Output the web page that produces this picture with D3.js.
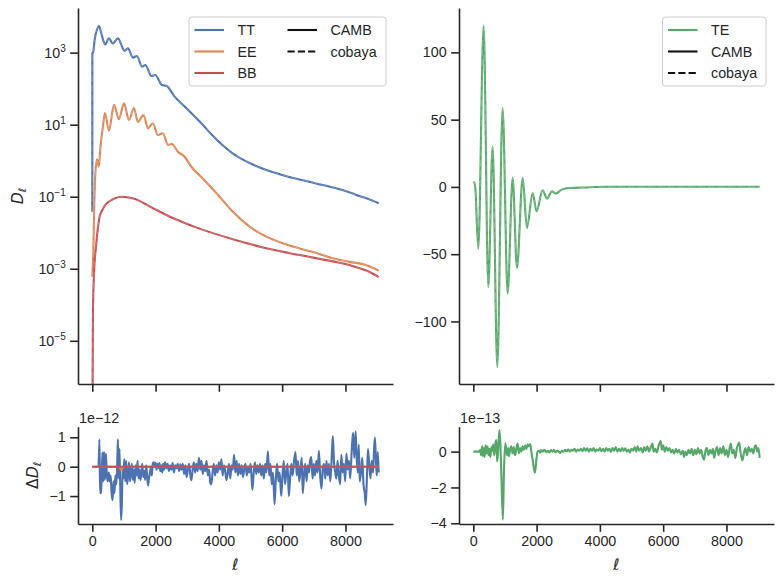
<!DOCTYPE html>
<html>
<head>
<meta charset="utf-8">
<script src="https://cdn.jsdelivr.net/npm/d3@7"></script>
<style>
body { margin: 0; background: #fff; }
text { font-family: "Liberation Sans", Arial, sans-serif; fill: #262626; }
</style>
</head>
<body>
<svg id="chart" width="784" height="583"></svg>
<script>
// Spectra (D_ell, muK^2)
const ttEll = [0, 2, 30, 73, 145, 210, 284, 357, 410, 525, 650, 810, 1020, 1125, 1285, 1410, 1570, 1675, 1865, 1990, 2200, 2340, 2600, 2917, 3444, 3800, 4128, 4443, 4760, 5100, 5500, 6000, 6550, 7100, 7600, 8000, 8340, 8660, 9050];
const ttVal = [0.038, 960, 1050, 2240, 4270, 5500, 3470, 2040, 1700, 2500, 1800, 2500, 1120, 1330, 730, 810, 410, 455, 225, 240, 126, 120, 60, 32, 11, 5.0, 2.63, 1.58, 1.07, 0.76, 0.55, 0.40, 0.30, 0.23, 0.18, 0.145, 0.112, 0.091, 0.066];

const eeEll = [0, 30, 60, 100, 150, 205, 260, 335, 400, 525, 685, 840, 1000, 1160, 1315, 1440, 1620, 1760, 1915, 2075, 2230, 2390, 2515, 2705, 2917, 3128, 3444, 3810, 4023, 4443, 4970, 5500, 6235, 7080, 7600, 8130, 8660, 9050];
const eeVal = [0.0006, 0.0025, 0.05, 0.5, 1.1, 0.68, 2.5, 8.7, 21, 6.8, 35.5, 14.1, 39, 13.5, 29, 12.0, 18.6, 7.9, 11.0, 5.1, 5.8, 2.75, 2.9, 1.78, 1.29, 0.68, 0.355, 0.162, 0.10, 0.038, 0.0148, 0.0078, 0.0044, 0.00275, 0.00195, 0.00155, 0.00126, 0.00089];

const bbEll = [0, 20, 50, 126, 230, 330, 440, 650, 915, 1300, 1900, 2340, 2900, 3390, 4443, 5500, 6550, 7600, 8130, 8660, 9050];
const bbVal = [1e-8, 6e-5, 6e-4, 5e-3, 0.0275, 0.045, 0.063, 0.085, 0.1, 0.089, 0.049, 0.031, 0.019, 0.013, 0.0066, 0.0037, 0.0024, 0.0016, 0.00126, 0.00089, 0.00059];

const teEll = [2, 30, 63, 158, 326, 474, 610, 758, 926, 1085, 1243, 1380, 1560, 1695, 1875, 2000, 2190, 2330, 2485, 2610, 2790, 3030, 3500, 4240, 5000, 6000, 7000, 8000, 9050];
const teVal = [3.0, 3.4, -0.7, -46, 120, -74.6, 30.2, -134, 58.7, -79.3, 6.7, -60.2, 6.7, -30.5, -4.5, -18.1, -2.5, -8.7, -3.3, -5, -2, -0.8, -0.4, 0.1, 0.1, 0.1, 0.1, 0.1, 0.1];

// Residuals cobaya - CAMB (TT/EE/BB in units of 1e-12, TE in 1e-13)
const resTTEll = [200, 225, 245, 270, 295, 320, 345, 370, 400, 430, 460, 490, 520, 550, 580, 610, 640, 670, 700, 730, 760, 790, 810, 835, 860, 885, 910, 935, 960, 985,
  1010, 1040, 1070, 1100, 1130, 1160, 1190, 1220, 1250, 1280, 1310, 1340, 1370, 1400, 1430, 1460, 1490, 1520, 1550, 1580, 1610, 1640, 1670, 1700, 1730, 1760, 1790, 1820, 1850, 1880,
  1910, 1940, 1970, 2000, 2030, 2060, 2090, 2120, 2150, 2180, 2210, 2240, 2270, 2300, 2340, 2380, 2420, 2460, 2500, 2540, 2580, 2620, 2660, 2700, 2740, 2780, 2820, 2860, 2900, 2940,
  2980, 3020, 3060, 3100, 3130, 3170, 3210, 3250, 3290, 3330, 3370, 3410, 3450, 3490, 3530, 3570, 3610, 3650, 3690, 3730, 3760, 3800, 3840, 3880, 3920, 3960, 4000, 4040, 4080, 4120,
  4160, 4200, 4240, 4280, 4320, 4360, 4400, 4440, 4480, 4520, 4560, 4600, 4640, 4680, 4720, 4760, 4800, 4840, 4880, 4920, 4960, 5000, 5040, 5060, 5100, 5140, 5180, 5220, 5260, 5300,
  5340, 5380, 5420, 5460, 5500, 5550, 5590, 5630, 5670, 5710, 5760, 5800, 5840, 5880, 5920, 5970, 6010, 6050, 6090, 6130, 6170, 6210, 6250, 6290, 6330, 6370, 6420, 6460, 6500, 6540,
  6580, 6620, 6650, 6690, 6730, 6770, 6810, 6850, 6880, 6920, 6960, 7000, 7040, 7080, 7120, 7160, 7200, 7240, 7280, 7320, 7360, 7400, 7440, 7480, 7520, 7560, 7600, 7640, 7680, 7710,
  7750, 7790, 7830, 7870, 7910, 7950, 7990, 8030, 8070, 8110, 8150, 8200, 8240, 8280, 8320, 8350, 8390, 8420, 8450, 8490, 8530, 8570, 8610, 8640, 8680, 8710, 8750, 8790, 8830, 8870,
  8900, 8930, 8960, 8990, 9020, 9050];
const resTTVal = [0, 0.93, -0.9, -0.88, -0.45, 0.48, -0.5, 0.5, -0.45, 0.45, -0.3, -0.5, -0.2, -0.5, -0.3, -0.9, -1.14, -0.5, -0.9, -0.3, -0.6, 0.2, 0.93, -0.4, 0.6, -0.8, -1.82, -1.2, 0.0, -0.4,
  0.26, -0.5, 0.2, -0.6, -0.3, 0.15, -0.5, -0.2, 0.1, -0.45, -0.1, -0.55, 0.05, -0.3, 0.2, -0.4, -0.1, -0.45, -0.2, 0.1, -0.35, -0.15, -0.45, 0.05, -0.3, -0.64, -0.4, -0.2, -0.05, -0.3,
  0.1, 0.15, 0.05, 0.12, -0.1, 0.1, -0.05, 0.12, -0.15, 0.05, -0.2, 0.1, -0.1, 0.15, -0.05, 0.1, -0.15, 0.05, -0.1, 0.12, -0.2, 0.05, -0.05, 0.1, -0.15, 0.08, -0.1, 0.1, -0.25, 0.05,
  -0.35, -0.1, 0.1, -0.3, -0.46, -0.1, 0.15, -0.2, 0.1, -0.15, 0.3, -0.1, 0.2, -0.25, 0.05, -0.15, 0.2, -0.3, -0.1, -0.55, -0.6, -0.2, 0.1, -0.3, 0.05, -0.2, 0.15, -0.1, 0.25, -0.3,
  0.05, -0.15, -0.46, -0.2, 0.1, -0.4, 0.05, -0.1, 0.4, -0.2, 0.2, -0.3, 0.1, -0.25, 0.05, -0.35, -0.1, 0.1, -0.3, 0.0, -0.2, 0.1, -0.5, -0.78, -0.2, 0.15, -0.25, 0.05, -0.2, 0.1,
  -0.3, 0.05, -0.4, 0.1, -0.2, 0.52, -0.3, 0.1, -0.6, -0.2, -1.28, -0.4, 0.1, -0.5, -0.2, -1.0, -0.3, 0.2, -0.6, -0.2, 0.1, -1.0, -0.4, 0.1, -0.3, 0.15, 0.5, -0.3, 0.2, -0.5,
  -0.1, 0.3, -0.9, -0.3, 0.1, -0.5, 0.05, -0.2, 0.2, 0.33, -0.4, 0.1, -0.3, 0.2, -0.2, 0.54, -0.3, -0.75, -0.1, 0.1, -0.4, 0.2, -0.3, 0.1, -0.5, 0.2, 1.04, 0.1, -0.2, -0.4,
  0.2, -0.3, -0.6, 0.4, -0.2, 0.1, -0.5, 0.45, -0.1, 0.2, -0.4, 0.6, 1.15, 0.3, 1.2, 0.4, -0.2, 0.75, -0.5, -0.2, 0.3, -0.6, -0.9, -1.31, -0.3, 0.6, 0.1, -0.4, 0.2, -0.2,
  0.5, 0.99, 0.3, -0.3, 0.5, -0.2];

const resEEEll = [0, 800, 880, 920, 960, 1040, 9050];
const resEEVal = [0, 0, -0.05, -0.12, -0.05, 0, 0];
const resBBEll = [0, 9050];
const resBBVal = [0, 0];

const resTEEll = [0, 180, 220, 250, 280, 300, 330, 360, 390, 420, 450, 480, 510, 540, 570, 600, 630, 660, 700, 730, 750, 770, 800, 830, 860, 890, 935, 970, 1010, 1040,
  1070, 1100, 1130, 1160, 1200, 1240, 1280, 1320, 1360, 1400, 1440, 1480, 1520, 1560, 1600, 1640, 1680, 1720, 1760, 1800, 1840, 1880, 1920, 1950, 1990, 2030, 2070, 2110, 2150, 2200,
  2250, 2300, 2350, 2400, 2450, 2500, 2550, 2600, 2650, 2700, 2750, 2800, 2850, 2900, 2950, 3000, 3050, 3100, 3150, 3200, 3250, 3300, 3350, 3400, 3450, 3500, 3550, 3600, 3650, 3700,
  3750, 3800, 3850, 3900, 3950, 4000, 4050, 4100, 4150, 4200, 4250, 4300, 4350, 4400, 4450, 4500, 4550, 4600, 4650, 4700, 4750, 4800, 4850, 4900, 4950, 5000, 5050, 5100, 5150, 5190,
  5240, 5300, 5350, 5400, 5450, 5500, 5550, 5600, 5660, 5700, 5750, 5800, 5850, 5920, 5960, 6000, 6050, 6100, 6150, 6200, 6250, 6300, 6350, 6400, 6450, 6500, 6560, 6620, 6660, 6700,
  6750, 6800, 6850, 6900, 6950, 7000, 7050, 7100, 7150, 7200, 7250, 7290, 7330, 7380, 7430, 7480, 7530, 7570, 7610, 7650, 7700, 7750, 7800, 7850, 7900, 7950, 8000, 8050, 8100, 8140,
  8180, 8230, 8280, 8330, 8370, 8400, 8440, 8500, 8550, 8600, 8650, 8700, 8750, 8800, 8850, 8890, 8930, 8970, 9010, 9050];
const resTEVal = [0, 0, 0.1, -0.2, 0.3, -0.25, 0.2, -0.3, 0.35, -0.1, 0.3, -0.2, 0.15, -0.3, 0.25, 0.05, 0.4, -0.2, 0.5, 0.65, -0.55, -0.3, 0.6, 1.2, 0.2, -1.5, -3.8, -1.0, 0.47, 0.1,
  -0.2, 0.2, -0.25, 0.1, 0.3, -0.1, 0.25, -0.2, 0.15, 0.45, -0.1, 0.2, 0.0, 0.3, 0.1, 0.35, 0.15, 0.4, 0.3, 0.42, -0.1, -0.5, -1.0, -1.17, -0.5, 0.0, 0.05, -0.05, 0.08, 0.0,
  0.1, -0.03, 0.05, -0.05, 0.08, 0.0, 0.1, -0.05, 0.05, 0.0, -0.08, 0.05, 0.0, 0.1, 0.02, 0.12, 0.0, 0.1, 0.05, 0.15, 0.0, 0.12, 0.05, 0.15, 0.02, 0.2, 0.05, 0.18, 0.0, 0.15,
  0.05, 0.2, 0.0, 0.12, 0.05, 0.2, 0.02, 0.15, 0.0, 0.2, 0.05, 0.15, -0.02, 0.2, 0.05, 0.25, 0.0, 0.15, 0.02, 0.2, 0.05, 0.18, 0.0, 0.1, -0.05, 0.15, 0.05, 0.25, 0.0, 0.3,
  0.05, 0.2, -0.05, 0.25, 0.05, 0.3, 0.0, 0.2, 0.45, 0.0, 0.15, -0.05, 0.3, 0.59, 0.1, 0.35, 0.0, 0.25, 0.05, 0.2, -0.05, 0.1, -0.1, 0.15, -0.05, 0.1, -0.15, 0.05, -0.3, 0.0,
  -0.2, 0.1, -0.1, 0.15, -0.2, 0.1, -0.15, 0.2, -0.1, 0.1, -0.3, -0.45, 0.0, 0.2, -0.2, 0.1, -0.1, 0.15, -0.35, 0.0, 0.25, -0.2, 0.2, -0.1, 0.3, -0.2, 0.1, -0.3, 0.2, 0.45,
  -0.1, 0.1, -0.35, 0.2, 0.4, 0.5, 0.0, -0.5, -0.1, 0.2, -0.2, 0.25, 0.0, 0.15, -0.1, 0.25, 0.35, 0.0, 0.2, -0.35];

// Ticks and legend entries
const xTicks = [0, 2000, 4000, 6000, 8000];
const logTicks = [1e-5, 1e-3, 1e-1, 1e1, 1e3];
const teTicks = [-100, -50, 0, 50, 100];
const resTTTicks = [-1, 0, 1];
const resTETicks = [-4, -2, 0];
const specLabels = ["TT", "EE", "BB"];
const codeLabels = ["CAMB", "cobaya"];

const colors = { TT: "#4C72B0", EE: "#DD8452", BB: "#C44E52", TE: "#55A868" };
const ink = "#262626";

const svg = d3.select("#chart");

// panel boxes
const leftX = [78, 393], rightX = [459, 774];
const topY = [8, 384], botY = [426.7, 524];

const xL = d3.scaleLinear().domain([-452, 9502]).range(leftX);
const xR = d3.scaleLinear().domain([-452, 9502]).range(rightX);
const yLog = d3.scaleLog().domain([Math.pow(10, -6.2), Math.pow(10, 4.24)]).range([topY[1], topY[0]]);
const yTE = d3.scaleLinear().domain([-146.5, 133]).range([topY[1], topY[0]]);
const yResTT = d3.scaleLinear().domain([-1.95, 1.36]).range([botY[1], botY[0]]);
const yResTE = d3.scaleLinear().domain([-4.04, 1.39]).range([botY[1], botY[0]]);

// clip paths per panel
const defs = svg.append("defs");
function addClip(id, xr, yr) {
    defs.append("clipPath").attr("id", id)
        .append("rect")
        .attr("x", xr[0]).attr("y", yr[0])
        .attr("width", xr[1] - xr[0]).attr("height", yr[1] - yr[0]);
}
addClip("c-tl", leftX, topY);
addClip("c-tr", rightX, topY);
addClip("c-bl", leftX, botY);
addClip("c-br", rightX, botY);

function drawSeries(clip, x, y, ells, vals, color, dashed) {
    const pts = ells.map((l, i) => [l, vals[i]]);
    const line = d3.line()
        .x(d => x(d[0]))
        .y(d => y(d[1]))
        .curve(d3.curveMonotoneX);
    const g = svg.append("g").attr("clip-path", `url(#${clip})`);
    g.append("path")
        .datum(pts)
        .attr("d", line)
        .attr("fill", "none")
        .attr("stroke", color)
        .attr("stroke-width", 2.1)
        .attr("stroke-linejoin", "round");
    if (dashed) {
        // cobaya curve sits on top of CAMB
        g.append("path")
            .datum(pts)
            .attr("d", line)
            .attr("fill", "none")
            .attr("stroke", "#fff")
            .attr("stroke-opacity", 0.22)
            .attr("stroke-width", 1)
            .attr("stroke-dasharray", "7,3");
    }
}

// top left: TT, EE, BB on log axis
drawSeries("c-tl", xL, yLog, ttEll, ttVal, colors.TT, true);
drawSeries("c-tl", xL, yLog, eeEll, eeVal, colors.EE, true);
drawSeries("c-tl", xL, yLog, bbEll, bbVal, colors.BB, true);

// top right: TE
drawSeries("c-tr", xR, yTE, teEll, teVal, colors.TE, true);

// residuals
drawSeries("c-bl", xL, yResTT, resTTEll, resTTVal, colors.TT, false);
drawSeries("c-bl", xL, yResTT, resEEEll, resEEVal, colors.EE, false);
drawSeries("c-bl", xL, yResTT, resBBEll, resBBVal, colors.BB, false);
drawSeries("c-br", xR, yResTE, resTEEll, resTEVal, colors.TE, false);

// axes
function styleAxis(g) {
    g.attr("font-family", null).attr("font-size", 14.3).attr("color", ink);
    g.select(".domain").attr("stroke-width", 1.6);
    g.selectAll(".tick line").attr("stroke-width", 1.6);
}

function xAxis(x, yPos, labels) {
    const ax = d3.axisBottom(x).tickValues(xTicks).tickSize(7.8).tickSizeOuter(0).tickPadding(4.5);
    ax.tickFormat(labels ? d3.format("d") : "");
    svg.append("g").attr("transform", `translate(0,${yPos})`).call(ax).call(styleAxis);
}

function yAxis(y, xPos, ticks, fmt) {
    const ax = d3.axisLeft(y).tickValues(ticks).tickSize(7.8).tickSizeOuter(0).tickPadding(4.5);
    if (fmt) ax.tickFormat(fmt);
    return svg.append("g").attr("transform", `translate(${xPos},0)`).call(ax).call(styleAxis);
}

xAxis(xL, topY[1], false);
xAxis(xR, topY[1], false);
xAxis(xL, botY[1], true);
xAxis(xR, botY[1], true);

// log axis with 10^n labels
const logAxis = yAxis(yLog, leftX[0], logTicks, () => "");
logAxis.selectAll(".tick text").each(function(d) {
    const t = d3.select(this);
    const e = Math.round(Math.log10(d));
    t.append("tspan").text("10");
    t.append("tspan").attr("dy", "-0.55em").attr("font-size", "0.7em")
        .text(String(e).replace("-", "\u2212"));
});

yAxis(yTE, rightX[0], teTicks, d3.format("d"));
yAxis(yResTT, leftX[0], resTTTicks, d3.format("d"));
yAxis(yResTE, rightX[0], resTETicks, d3.format("d"));

// offset texts
svg.append("text").attr("x", leftX[0] + 1).attr("y", 423).attr("font-size", 14.3).text("1e\u221212");
svg.append("text").attr("x", rightX[0] + 1).attr("y", 423).attr("font-size", 14.3).text("1e\u221213");

// axis labels
const mathFont = "DejaVu Sans";
[(leftX[0] + leftX[1]) / 2, (rightX[0] + rightX[1]) / 2].forEach(cx => {
    svg.append("text")
        .attr("x", cx).attr("y", 570)
        .attr("text-anchor", "middle")
        .style("font-family", mathFont)
        .style("font-style", "italic")
        .attr("font-size", 15.6)
        .text("\u2113");
});

const dl = svg.append("text")
    .attr("transform", `translate(23,${(topY[0] + topY[1]) / 2}) rotate(-90)`)
    .attr("text-anchor", "middle")
    .style("font-family", mathFont)
    .attr("font-size", 15.6);
dl.append("tspan").style("font-style", "italic").text("D");
dl.append("tspan").attr("dy", 3).attr("font-size", 11).style("font-style", "italic").text("\u2113");

const ddl = svg.append("text")
    .attr("transform", `translate(38,${(botY[0] + botY[1]) / 2}) rotate(-90)`)
    .attr("text-anchor", "middle")
    .style("font-family", mathFont)
    .attr("font-size", 15.6);
ddl.append("tspan").text("\u0394");
ddl.append("tspan").style("font-style", "italic").text("D");
ddl.append("tspan").attr("dy", 3).attr("font-size", 11).style("font-style", "italic").text("\u2113");

// legends
function legendBox(x0, x1) {
    svg.append("rect")
        .attr("x", x0).attr("y", 17)
        .attr("width", x1 - x0).attr("height", 69)
        .attr("rx", 3)
        .attr("fill", "#fff").attr("fill-opacity", 0.8)
        .attr("stroke", "#cccccc").attr("stroke-width", 1);
}

function legendItem(x, y, label, color, dashed) {
    svg.append("line")
        .attr("x1", x).attr("x2", x + 29.5)
        .attr("y1", y).attr("y2", y)
        .attr("stroke", color).attr("stroke-width", 2.1)
        .attr("stroke-dasharray", dashed ? "7.2,3.1" : null);
    svg.append("text")
        .attr("x", x + 43).attr("y", y)
        .attr("dy", "0.35em")
        .attr("font-size", 14.3)
        .text(label);
}

const rowY = [30, 51.5, 73];

legendBox(189, 386);
specLabels.forEach((s, i) => legendItem(194.5, rowY[i], s, colors[s], false));
codeLabels.forEach((s, i) => legendItem(287.5, rowY[i], s, "#111", i === 1));

legendBox(662.5, 766);
legendItem(668, rowY[0], "TE", colors.TE, false);
codeLabels.forEach((s, i) => legendItem(668, rowY[i + 1], s, "#111", i === 1));
</script>
</body>
</html>
